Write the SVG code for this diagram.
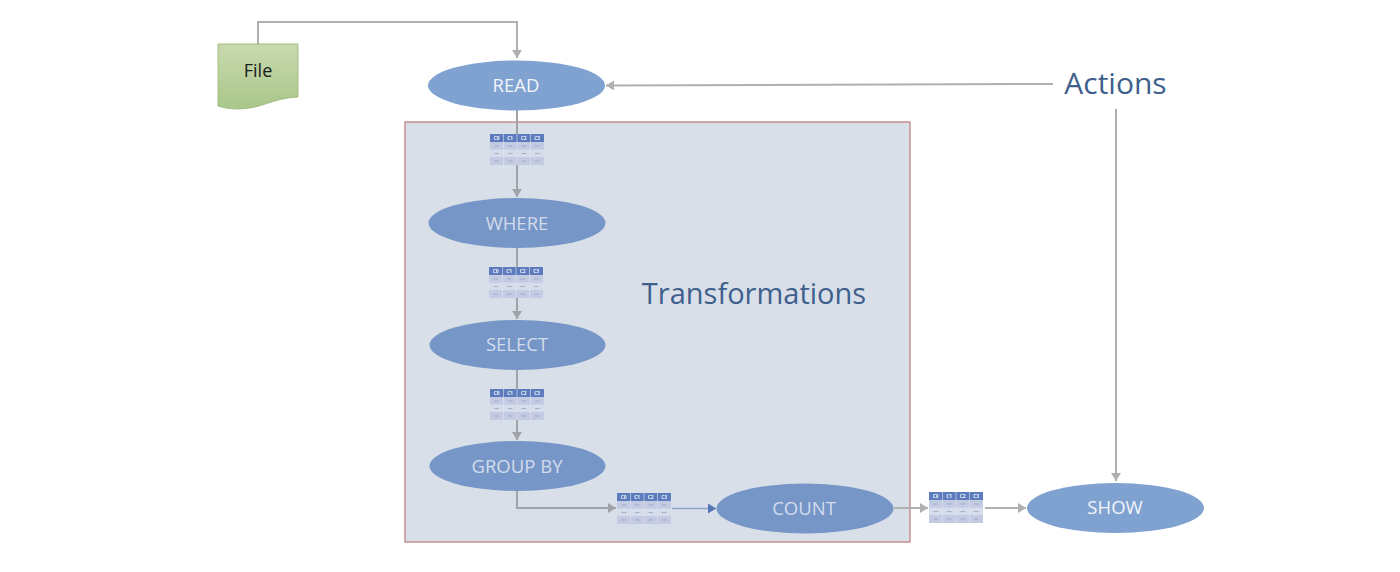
<svg xmlns="http://www.w3.org/2000/svg" width="1400" height="572" viewBox="0 0 1400 572">
<defs>
<filter id="soft" x="-5%" y="-5%" width="110%" height="110%"><feGaussianBlur stdDeviation="0.45"/></filter>
<marker id="ah" markerUnits="userSpaceOnUse" markerWidth="10" markerHeight="11" refX="8" refY="5" orient="auto"><path d="M0 0L8 5L0 10Z" fill="#b0b0b0"/></marker>
<marker id="ahd" markerUnits="userSpaceOnUse" markerWidth="10" markerHeight="11" refX="8" refY="5" orient="auto"><path d="M0 0L8 5L0 10Z" fill="#a0a3a8"/></marker>
<marker id="ahb" markerUnits="userSpaceOnUse" markerWidth="10" markerHeight="11" refX="8" refY="5" orient="auto"><path d="M0 0L8 5L0 10Z" fill="#5577b5"/></marker>
<linearGradient id="fileg" x1="0" y1="0" x2="0" y2="1"><stop offset="0" stop-color="#c9d9ae"/><stop offset="1" stop-color="#a9c78a"/></linearGradient>
<g id="tbl" filter="url(#soft)">
<rect x="0" y="0" width="54" height="31" fill="#d6dcec"/>
<rect x="0" y="0" width="54" height="8" fill="#5b7cbd"/>
<rect x="0" y="8" width="54" height="7.600" fill="#c3cbe2"/>
<rect x="0" y="23" width="54" height="8" fill="#c3cbe2"/>
<path d="M13.500 0V31M27 0V31M40.500 0V31" stroke="#dfe4f0" stroke-width=".6"/>
<g font-family="'Open Sans',sans-serif" font-size="5" font-weight="700" fill="#eef1f8" text-anchor="middle"><text x="6.700" y="6">C0</text><text x="20.200" y="6">C1</text><text x="33.700" y="6">C2</text><text x="47.200" y="6">C3</text></g>
<path d="M4.500 12H9M18 12H22.500M31.500 12H36M45 12H49.500M4.500 19.500H9M18 19.500H22.500M31.500 19.500H36M45 19.500H49.500M4.500 27H9M18 27H22.500M31.500 27H36M45 27H49.500" stroke="#98a2bd" stroke-width=".8" fill="none"/>
</g>
</defs>
<style>
.lbl{font-family:'Open Sans','Liberation Sans',sans-serif;text-anchor:middle}
.op{font-size:18.500px;fill:#d3dced}
.op2{font-size:18.500px;fill:#f2f5fa}
.big{font-size:29px;fill:#3f5f8c}
.c{fill:none;stroke:#b0b0b0;stroke-width:2}
.cd{fill:none;stroke:#a0a3a8;stroke-width:2}
</style>
<rect width="1400" height="572" fill="#fff"/>
<g id="transformations-box"><rect x="405" y="122" width="505" height="420" fill="#d8dfe9" stroke="#c58f8f" stroke-width="1.500"/><text class="lbl big" x="754" y="304">Transformations</text></g>
<g id="connectors">
<path class="c" d="M258 44V22H517V58" marker-end="url(#ah)"/>
<path class="c" d="M1053 84L606 85.500" marker-end="url(#ah)"/>
<path class="c" d="M1116 109V481" marker-end="url(#ah)"/>
<path class="cd" d="M517 110V134M517 165V197" marker-end="url(#ahd)"/>
<path class="cd" d="M517 248V267M517 298V319" marker-end="url(#ahd)"/>
<path class="cd" d="M517 370V389M517 420V440" marker-end="url(#ahd)"/>
<path class="cd" d="M517 491V508H616" marker-end="url(#ahd)"/>
<path d="M672 508.500H716" fill="none" stroke="#8fa3c9" stroke-width="1.300" marker-end="url(#ahb)"/>
<path class="c" d="M894 508H928" marker-end="url(#ah)"/>
<path class="c" d="M985 508H1026" marker-end="url(#ah)"/>
</g>
<g id="file"><path d="M218 44H298V97C272 98 262 109 238 109C230 109 224 108 218 106Z" fill="url(#fileg)" stroke="#a3bd85" stroke-width="1"/><text class="lbl" x="258" y="77" font-size="18" fill="#16201a">File</text></g>
<g id="read"><ellipse cx="516.500" cy="85.500" rx="88.500" ry="25" fill="#7fa2d0"/><text class="lbl op2" x="516" y="92">READ</text></g>
<g id="table-1"><use href="#tbl" x="490" y="134"/></g>
<g id="where"><ellipse cx="517" cy="223" rx="88.500" ry="25" fill="#7596c6"/><text class="lbl op" x="517" y="230">WHERE</text></g>
<g id="table-2"><use href="#tbl" x="489" y="267"/></g>
<g id="select"><ellipse cx="517.500" cy="345" rx="88" ry="25" fill="#7596c6"/><text class="lbl op" x="517" y="351">SELECT</text></g>
<g id="table-3"><use href="#tbl" x="490" y="389"/></g>
<g id="group-by"><ellipse cx="517.500" cy="466" rx="88" ry="25" fill="#7596c6"/><text class="lbl op" x="517" y="473">GROUP BY</text></g>
<g id="table-4"><use href="#tbl" x="617" y="493"/></g>
<g id="count"><ellipse cx="805" cy="508.500" rx="88.500" ry="25" fill="#7596c6"/><text class="lbl op" x="804" y="515">COUNT</text></g>
<g id="table-5"><use href="#tbl" x="929" y="492"/></g>
<g id="show"><ellipse cx="1115.500" cy="508" rx="88.500" ry="25" fill="#7fa2d0"/><text class="lbl op2" x="1115" y="514">SHOW</text></g>
<g id="actions"><text class="lbl big" font-size="30" style="font-size:30px" x="1115.500" y="94">Actions</text></g>
</svg>
